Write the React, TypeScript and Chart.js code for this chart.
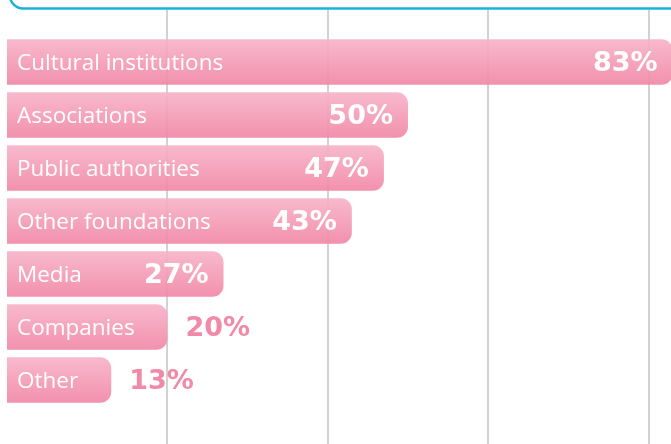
import React, { useEffect, useRef } from "react";
import { Chart, registerables } from "chart.js";

Chart.register(...registerables);

const categories = [
  "Cultural institutions",
  "Associations",
  "Public authorities",
  "Other foundations",
  "Media",
  "Companies",
  "Other",
];
const values = [83, 50, 47, 43, 27, 20, 13];
const gridValues = [20, 40, 60, 80];
const X_MAX = 82.8;

const PINK_TOP = "rgba(247,180,201,0.92)";
const PINK_BOTTOM = "rgba(241,135,166,0.92)";
const PINK_TEXT = "#f189a8";
const CAT_FONT = "500 22.5px 'Open Sans'";
const PCT_FONT = "bold 27px 'DejaVu Sans'";

export default function App() {
  const ref = useRef<HTMLCanvasElement | null>(null);

  useEffect(() => {
    document.body.style.margin = "0";
    const canvas = ref.current!;

    const framePlugin = {
      id: "frame",
      beforeDraw(chart: any) {
        const c = chart.ctx;
        c.save();
        c.strokeStyle = "#1ab2d8";
        c.lineWidth = 2.5;
        c.beginPath();
        c.roundRect(10, -60, 720, 68.5, 13);
        c.stroke();
        c.restore();
      },
      beforeDatasetsDraw(chart: any) {
        const c = chart.ctx;
        const xs = chart.scales.x;
        c.save();
        c.strokeStyle = "#d2d2d4";
        c.lineWidth = 2;
        gridValues.forEach((v) => {
          const x = Math.round(xs.getPixelForValue(v));
          c.beginPath();
          c.moveTo(x, 10);
          c.lineTo(x, 444);
          c.stroke();
        });
        c.restore();
      },
      afterDatasetsDraw(chart: any) {
        const c = chart.ctx;
        const meta = chart.getDatasetMeta(0);
        c.save();
        c.textBaseline = "middle";
        meta.data.forEach((bar: any, i: number) => {
          const y = bar.y;
          const end = Math.min(bar.x, 685);
          c.font = CAT_FONT;
          c.fillStyle = "#ffffff";
          c.textAlign = "left";
          c.fillText(categories[i], 17, y + 2);
          const catW = c.measureText(categories[i]).width;
          c.font = PCT_FONT;
          const pct = values[i] + "%";
          const pw = c.measureText(pct).width;
          const insideRight = end - 15;
          if (17 + catW + 10 + pw <= insideRight) {
            c.fillStyle = "#ffffff";
            c.textAlign = "right";
            c.fillText(pct, insideRight, y + 2);
          } else {
            c.fillStyle = PINK_TEXT;
            c.textAlign = "left";
            c.fillText(pct, end + 18, y + 2);
          }
        });
        c.restore();
      },
    };

    const chart = new Chart(canvas, {
      type: "bar",
      data: {
        labels: categories,
        datasets: [
          {
            data: values,
            backgroundColor: (ctx: any) => {
              const ch = ctx.chart;
              const ys = ch.scales && ch.scales.y;
              if (!ys || ctx.dataIndex === undefined) return PINK_BOTTOM;
              const cy = ys.getPixelForValue(ctx.dataIndex);
              if (!Number.isFinite(cy)) return PINK_BOTTOM;
              const g = ch.ctx.createLinearGradient(0, cy - 23, 0, cy + 23);
              g.addColorStop(0, PINK_TOP);
              g.addColorStop(1, PINK_BOTTOM);
              return g;
            },
            borderWidth: 0,
            borderRadius: { topLeft: 0, bottomLeft: 0, topRight: 11, bottomRight: 11 },
            borderSkipped: "start",
            barPercentage: 0.86,
            categoryPercentage: 1,
            clip: false as any,
          },
        ],
      },
      options: {
        indexAxis: "y",
        responsive: false,
        animation: false,
        layout: { padding: { left: 7, right: 0, top: 35.5, bottom: 37.5 } },
        scales: {
          x: { display: false, min: 0, max: X_MAX },
          y: { display: false },
        },
        plugins: {
          legend: { display: false },
          tooltip: { enabled: false },
        },
      },
      plugins: [framePlugin],
    });
    return () => chart.destroy();
  }, []);

  return (
    <div style={{ width: 671, height: 444, background: "#ffffff" }}>
      <canvas ref={ref} width={671} height={444} />
    </div>
  );
}
